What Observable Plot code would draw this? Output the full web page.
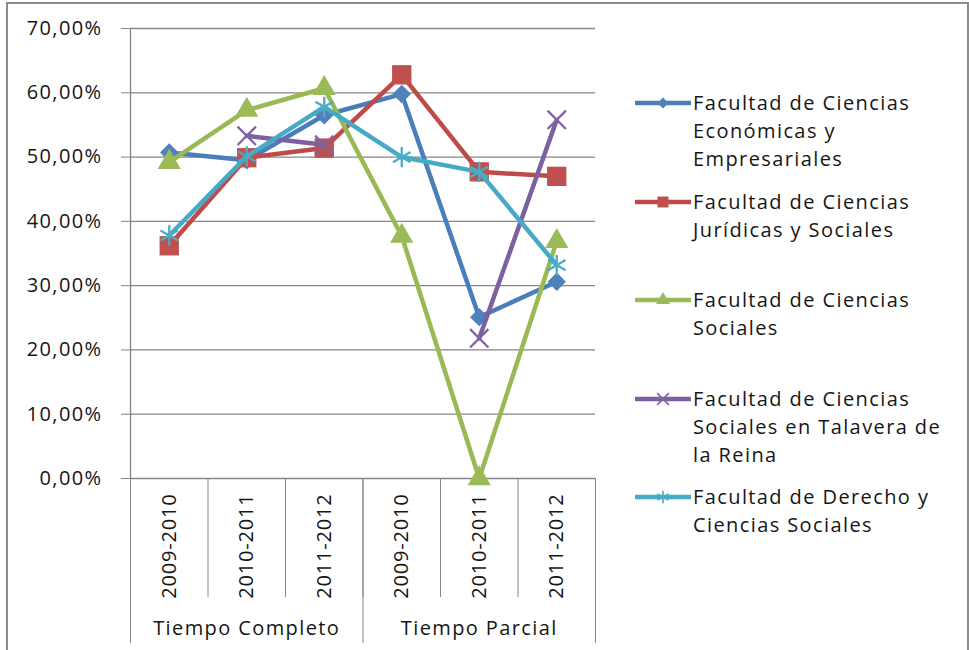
<!DOCTYPE html>
<html><head><meta charset="utf-8">
<script src="https://cdn.jsdelivr.net/npm/d3@7"></script>
<script src="https://cdn.jsdelivr.net/npm/@observablehq/plot@0.6"></script>
<style>
body{margin:0;background:#fff;}
#wrap{position:relative;width:969px;height:650px;overflow:hidden;font-family:"Open Sans",sans-serif;color:#161616;background:#fff;}
#border{position:absolute;left:6px;top:2px;width:963px;height:720px;border:2px solid #8c8c8c;box-sizing:border-box;pointer-events:none;}
#chart{position:absolute;left:0;top:0;}
.entry{position:absolute;left:635px;display:flex;align-items:flex-start;}
.entry svg{flex:none;display:block;}
.entry .txt{margin-left:2px;font-size:20px;letter-spacing:1.4px;line-height:28px;white-space:nowrap;color:#161616;}
</style></head><body>
<div id="wrap"><div id="chart"></div><div id="legend"></div><div id="border"></div></div>
<script>
// ---- data ----
const groups = ["Tiempo Completo", "Tiempo Parcial"];
const years = ["2009-2010", "2010-2011", "2011-2012"];
const seriesNames = [
  "Facultad de Ciencias Económicas y Empresariales",
  "Facultad de Ciencias Jurídicas y Sociales",
  "Facultad de Ciencias Sociales",
  "Facultad de Ciencias Sociales en Talavera de la Reina",
  "Facultad de Derecho y Ciencias Sociales"
];
const legendLines = [
  ["Facultad de Ciencias", "Económicas y", "Empresariales"],
  ["Facultad de Ciencias", "Jurídicas y Sociales"],
  ["Facultad de Ciencias", "Sociales"],
  ["Facultad de Ciencias", "Sociales en Talavera de", "la Reina"],
  ["Facultad de Derecho y", "Ciencias Sociales"]
];
const economicas = [0.507, 0.495, 0.565, 0.598, 0.251, 0.306];
const juridicas  = [0.362, 0.499, 0.514, 0.628, 0.477, 0.470];
const sociales   = [0.492, 0.573, 0.607, 0.377, 0.000, 0.369];
const talavera   = [null,  0.533, 0.519, null,  0.218, 0.558];
const derecho    = [0.378, 0.501, 0.578, 0.500, 0.477, 0.332];
const yTicks = [0, 0.1, 0.2, 0.3, 0.4, 0.5, 0.6, 0.7];

const seriesValues = [economicas, juridicas, sociales, talavera, derecho];
const lineColors = ["#4A7EBB", "#BE4B48", "#98B954", "#7D60A0", "#46AAC5"];
const markColors = ["#4F81BD", "#C0504D", "#9BBB59", "#8064A2", "#4BACC6"];
const symbols = ["diamond2", "square", "triangle", "times", "asterisk"];
const markerR = [8.3, 10.9, 8.6, 8.4, 9.6];
const legendR = [5.0, 6.2, 5.2, 5.4, 6.0];
const filled = [true, true, true, false, false];

// categories: group x year, positioned at band centres
const cats = groups.flatMap((g, gi) => years.map((yr, yi) => ({group: g, gi, year: yr, idx: gi * years.length + yi})));
const nCats = cats.length;
const bounds = d3.range(nCats + 1);
const groupBounds = d3.range(groups.length + 1).map(i => i * years.length);

const rows = seriesNames.flatMap((name, si) =>
  cats.map((c, ci) => ({series: name, si, x: c.idx + 0.5, y: seriesValues[si][ci]})));

const fmt = d => (d * 100).toFixed(2).replace(".", ",") + "%";
const grid = "#868686";
const ink = "#161616";

const seriesMarks = seriesNames.flatMap((name, si) => {
  const data = rows.filter(r => r.si === si);
  return [
    Plot.line(data, {x: "x", y: "y", stroke: lineColors[si], strokeWidth: 4.5, strokeLinejoin: "round", strokeLinecap: "round"}),
    Plot.dot(data.filter(d => d.y != null), filled[si]
      ? {x: "x", y: "y", symbol: symbols[si], r: markerR[si], fill: markColors[si], stroke: "none"}
      : {x: "x", y: "y", symbol: symbols[si], r: markerR[si], fill: "none", stroke: markColors[si], strokeWidth: 2.3})
  ];
});

const chart = Plot.plot({
  width: 969,
  height: 650,
  marginLeft: 130,
  marginRight: 374,
  marginTop: 28,
  marginBottom: 172,
  style: {fontFamily: "'Open Sans', sans-serif", fontSize: "20px", color: ink, background: "transparent", overflow: "visible"},
  x: {type: "linear", domain: [0, nCats], axis: null},
  y: {domain: [0, 0.7], axis: null},
  marks: [
    Plot.ruleY(yTicks, {stroke: grid, strokeWidth: 1.3}),
    Plot.ruleX([0], {stroke: grid, strokeWidth: 1.3}),
    Plot.axisY({ticks: yTicks, tickFormat: fmt, tickSize: 9, tickPadding: 19, stroke: grid, fill: ink, label: null, fontSize: 20}),
    Plot.axisX({ticks: bounds, tickFormat: () => "", tickSize: 119, stroke: grid, label: null}),
    Plot.axisX({ticks: groupBounds, tickFormat: () => "", tickSize: 165, stroke: grid, label: null}),
    Plot.text(cats, {x: d => d.idx + 0.5, text: "year", frameAnchor: "bottom", rotate: -90, textAnchor: "end", lineAnchor: "middle", dy: 15, fontSize: 20, fill: ink, className: "yr"}),
    Plot.text(groups, {x: (d, i) => i * years.length + years.length / 2, text: d => d, frameAnchor: "bottom", dy: 150, lineAnchor: "middle", fontSize: 20, fill: ink}),
    ...seriesMarks
  ]
});
d3.select(chart).selectAll("text").style("letter-spacing", "1.4px");
d3.select(chart).selectAll(".yr text").style("letter-spacing", "0.8px");
document.getElementById("chart").append(chart);

// legend
const legend = d3.select("#legend");
seriesNames.forEach((name, si) => {
  const e = legend.append("div").attr("class", "entry").style("top", (89 + si * 98.5) + "px");
  const s = e.append("svg").attr("width", 56).attr("height", 28);
  s.append("line").attr("x1", 1).attr("x2", 55).attr("y1", 14).attr("y2", 14)
    .attr("stroke", lineColors[si]).attr("stroke-width", 4.5).attr("stroke-linecap", "round");
  const typ = {diamond2: d3.symbolDiamond2, square: d3.symbolSquare, triangle: d3.symbolTriangle, times: d3.symbolTimes, asterisk: d3.symbolAsterisk}[symbols[si]];
  const p = s.append("path").attr("transform", "translate(28,14)")
    .attr("d", d3.symbol(typ, Math.PI * legendR[si] * legendR[si])());
  if (filled[si]) p.attr("fill", markColors[si]);
  else p.attr("fill", "none").attr("stroke", markColors[si]).attr("stroke-width", 1.6);
  e.append("div").attr("class", "txt").attr("title", name).html(legendLines[si].join("<br>"));
});
</script>
</body></html>
